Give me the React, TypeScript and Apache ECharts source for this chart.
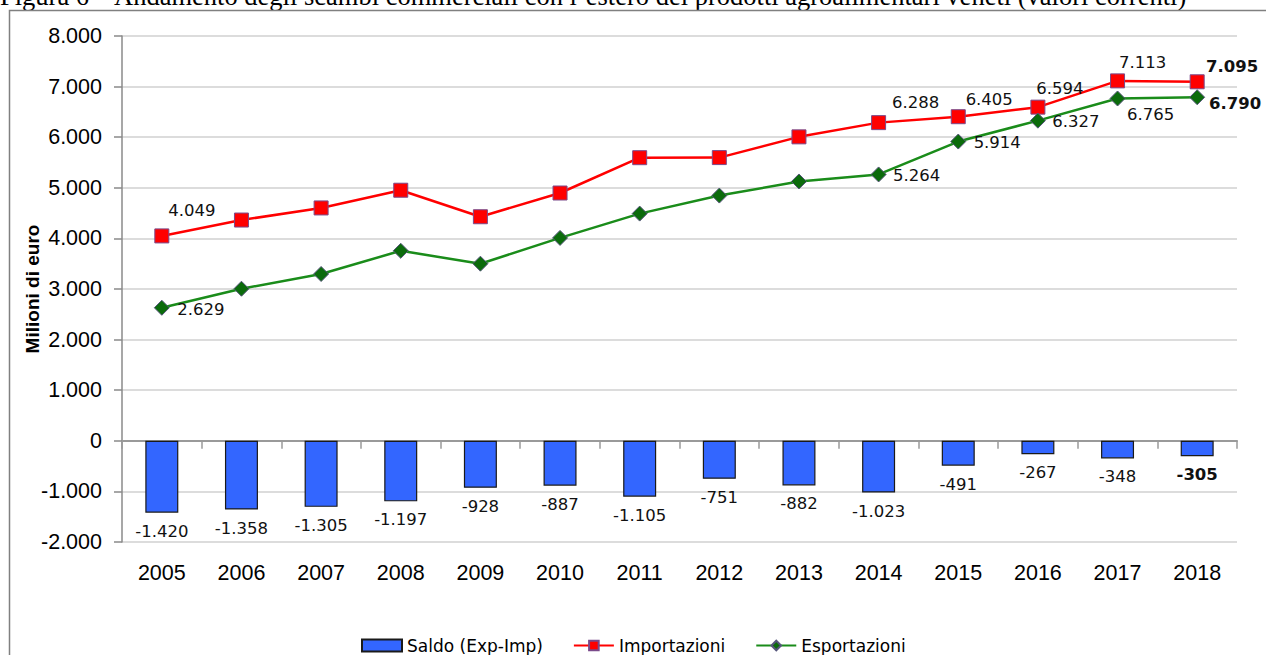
import React, { useEffect, useRef } from "react";
import * as echarts from "echarts";

const years = ["2005", "2006", "2007", "2008", "2009", "2010", "2011", "2012", "2013", "2014", "2015", "2016", "2017", "2018"];
const importazioni = [4049, 4363, 4602, 4952, 4428, 4897, 5595, 5597, 6007, 6288, 6405, 6594, 7113, 7095];
const esportazioni = [2629, 3005, 3297, 3755, 3500, 4010, 4490, 4846, 5125, 5264, 5914, 6327, 6765, 6790];
const saldo = [-1420, -1358, -1305, -1197, -928, -887, -1105, -751, -882, -1023, -491, -267, -348, -305];
const yTicks = { min: -2000, max: 8000, interval: 1000 };

const titleText = "Figura 6 – Andamento degli scambi commerciali con l’estero dei prodotti agroalimentari veneti (valori correnti)";

// label placement (styling only): offsets from the marker centre, null = no label
const impLabelOffsets: ([number, number] | null)[] = [
  [30, -25], null, null, null, null, null, null, null, null,
  [37, -20], [31, -17], [22, -19], [25, -18], [35, -15],
];
const expLabelOffsets: ([number, number] | null)[] = [
  [39, 2], null, null, null, null, null, null, null, null,
  [38, 1], [39, 1], [38, 1], [33, 16], [38, 6],
];
const boldLast = years.length - 1;

const fmt = (v: number) => {
  const s = Math.abs(v).toString().replace(/\B(?=(\d{3})+(?!\d))/g, ".");
  return (v < 0 ? "-" : "") + s;
};

const LABEL_FONT = "DejaVu Sans";

export default function App() {
  const ref = useRef<HTMLDivElement>(null);
  useEffect(() => {
    if (!ref.current) return;
    const chart = echarts.init(ref.current, undefined, { renderer: "svg" });

    const lineData = (vals: number[], offs: ([number, number] | null)[]) =>
      vals.map((v, i) => {
        const o = offs[i];
        return {
          value: v,
          label: o
            ? {
                show: true,
                position: "inside",
                offset: o,
                fontWeight: i === boldLast ? "bold" : "normal",
              }
            : { show: false },
        };
      });

    const option: any = {
      animation: false,
      backgroundColor: "#ffffff",
      graphic: [
        {
          type: "text",
          left: 0,
          top: -18,
          style: {
            text: titleText,
            font: "26.5px 'Liberation Serif'",
            fill: "#000",
          },
        },
        {
          type: "rect",
          shape: { x: 9.5, y: 10.5, width: 1400, height: 800 },
          style: { fill: "none", stroke: "#808080", lineWidth: 1.5 },
          silent: true,
        },
      ],
      grid: { left: 122, top: 36, width: 1115, height: 506, containLabel: false },
      legend: {
        left: 356,
        top: 632,
        itemWidth: 40,
        itemHeight: 12,
        itemGap: 30,
        textStyle: { fontFamily: LABEL_FONT, fontSize: 17, color: "#000" },
        data: [{ name: "Saldo (Exp-Imp)", icon: "rect" }, "Importazioni", "Esportazioni"],
      },
      xAxis: [
        {
          type: "category",
          data: years,
          position: "bottom",
          axisLine: { show: false, onZero: false },
          axisTick: { show: false },
          axisLabel: { margin: 20, fontFamily: "Liberation Sans", fontSize: 21.5, color: "#000" },
        },
        {
          type: "category",
          data: years,
          position: "top",
          axisLine: { show: true, onZero: true, lineStyle: { color: "#9a9a9a", width: 2 } },
          axisTick: { show: true, inside: true, length: 8, lineStyle: { color: "#9a9a9a", width: 1.5 } },
          axisLabel: { show: false },
        },
      ],
      yAxis: {
        type: "value",
        min: yTicks.min,
        max: yTicks.max,
        interval: yTicks.interval,
        name: "Milioni di euro",
        nameLocation: "middle",
        nameGap: 80,
        nameMoveOverlap: false,
        nameRotate: 90,
        nameTextStyle: { fontFamily: "Liberation Sans", fontWeight: "bold", fontSize: 19, color: "#000" },
        axisLine: { show: true, lineStyle: { color: "#8a8a8a", width: 1.5 } },
        axisTick: { show: true, length: 8, lineStyle: { color: "#8a8a8a", width: 1.5 } },
        axisLabel: {
          margin: 20,
          fontFamily: "Liberation Sans",
          fontSize: 21.5,
          color: "#000",
          formatter: (v: number) => fmt(v),
        },
        splitLine: { show: true, lineStyle: { color: "#d0d0d0", width: 1.5 } },
      },
      series: [
        {
          name: "Saldo (Exp-Imp)",
          type: "bar",
          xAxisIndex: 0,
          barWidth: 33,
          data: saldo.map((v, i) => ({
            value: v,
            label: { fontWeight: i === boldLast ? "bold" : "normal" },
          })),
          itemStyle: { color: "#3366ff", borderColor: "#1a1a1a", borderWidth: 1.2 },
          label: {
            show: true,
            position: "bottom",
            distance: 10,
            fontFamily: LABEL_FONT,
            fontSize: 16.5,
            color: "#111",
            formatter: (p: any) => fmt(p.value),
          },
          z: 2,
        },
        {
          name: "Importazioni",
          type: "line",
          xAxisIndex: 0,
          data: lineData(importazioni, impLabelOffsets),
          symbol: "rect",
          symbolSize: 14,
          lineStyle: { color: "#ff0000", width: 2.5 },
          itemStyle: { color: "#ff0000", borderColor: "#7a4a8a", borderWidth: 1 },
          label: {
            fontFamily: LABEL_FONT,
            fontSize: 16.5,
            color: "#111",
            formatter: (p: any) => fmt(p.value),
          },
          z: 4,
        },
        {
          name: "Esportazioni",
          type: "line",
          xAxisIndex: 0,
          data: lineData(esportazioni, expLabelOffsets),
          symbol: "diamond",
          symbolSize: [15, 15],
          lineStyle: { color: "#1a8c1a", width: 2.5 },
          itemStyle: { color: "#0b6b0b", borderColor: "#55557a", borderWidth: 1 },
          label: {
            fontFamily: LABEL_FONT,
            fontSize: 16.5,
            color: "#111",
            formatter: (p: any) => fmt(p.value),
          },
          z: 4,
        },
      ],
    };
    chart.setOption(option);
    return () => chart.dispose();
  }, []);

  return (
    <div
      ref={ref}
      style={{ position: "fixed", left: 0, top: 0, width: 1266, height: 655, background: "#fff" }}
    />
  );
}
